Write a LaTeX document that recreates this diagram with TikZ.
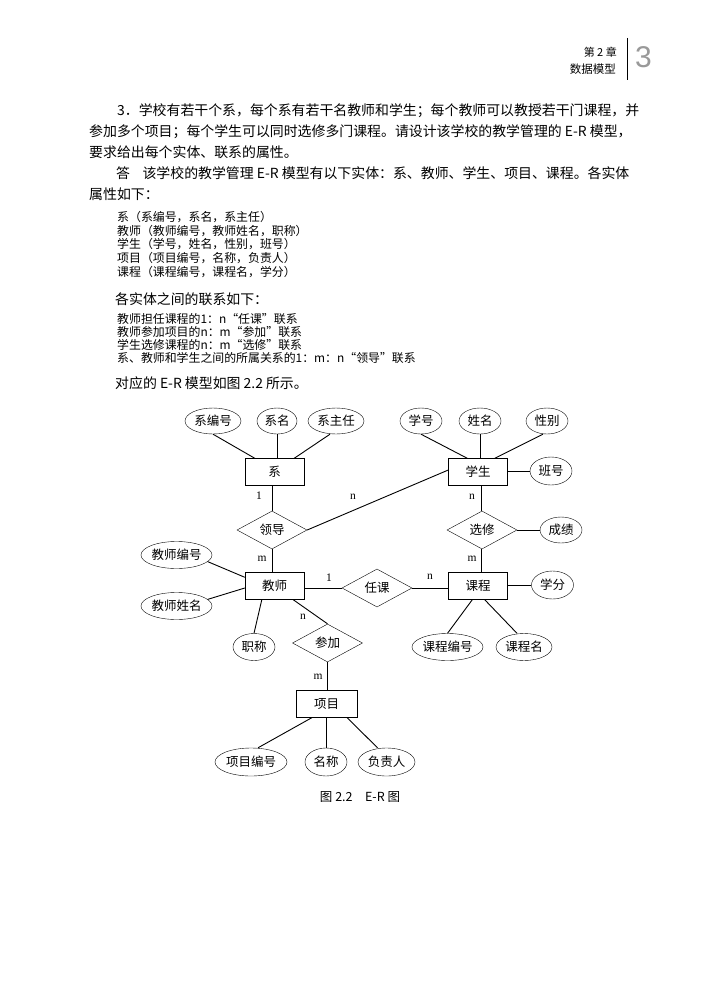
\documentclass[tikz,border=0pt]{standalone}
\usepackage{fontspec}
\setmainfont{Noto Sans CJK SC}
\newfontfamily\latf{Liberation Serif}
\newfontfamily\hdf{Liberation Sans}
\usetikzlibrary{shapes.geometric}
\tikzset{
  ent/.style={draw, rectangle, minimum width=59pt, minimum height=27pt, inner sep=0pt, font=\fontsize{12.5}{14}\selectfont},
  attr/.style={draw, ellipse, minimum height=26pt, inner sep=0pt, font=\fontsize{12.5}{14}\selectfont},
  rel/.style={draw, diamond, minimum width=70pt, minimum height=38pt, inner sep=0pt, font=\fontsize{12.5}{14}\selectfont},
  card/.style={inner sep=0pt, font=\latf\fontsize{11.5}{12}\selectfont},
  body/.style={anchor=west, inner sep=0pt, font=\fontsize{13.9}{16}\selectfont},
  small/.style={anchor=west, inner sep=0pt, font=\fontsize{11.9}{13}\selectfont},
  conn/.style={line width=0.9pt}
}
\begin{document}
\begin{tikzpicture}[x=1pt, y=-1pt]
\fill[white] (0,0) rectangle (722,1006);
\useasboundingbox (0,0) rectangle (722,1006);

% header
\node[anchor=east, inner sep=0pt, font=\fontsize{11}{12}\selectfont] (hd1) at (617,52) {第 2 章};
\node[anchor=east, inner sep=0pt, font=\fontsize{11.5}{12}\selectfont] (hd2) at (616,69) {数据模型};
\coordinate (vt) at (627,38);
\coordinate (vb) at (627,80);
\draw[line width=0.9pt] (vt) -- (vb);
\node[anchor=west, inner sep=0pt, text=gray!80, font=\hdf\fontsize{30}{30}\selectfont] (hd3) at (635,57) {3};

% body text
\node[body] (t1) at (117,111) {3．学校有若干个系，每个系有若干名教师和学生；每个教师可以教授若干门课程，并};
\node[body] (t2) at (89,132) {参加多个项目；每个学生可以同时选修多门课程。请设计该学校的教学管理的 E-R 模型，};
\node[body] (t3) at (89,152.5) {要求给出每个实体、联系的属性。};
\node[body] (t4) at (116,173) {答\hspace{0.9em}该学校的教学管理 E-R 模型有以下实体：系、教师、学生、项目、课程。各实体};
\node[body] (t5) at (89,194) {属性如下：};

\node[small] (l1) at (117,217) {系（系编号，系名，系主任）};
\node[small] (l2) at (117,231) {教师（教师编号，教师姓名，职称）};
\node[small] (l3) at (117,244.5) {学生（学号，姓名，性别，班号）};
\node[small] (l4) at (117,258) {项目（项目编号，名称，负责人）};
\node[small] (l5) at (117,272) {课程（课程编号，课程名，学分）};

\node[body] (t6) at (115,299) {各实体之间的联系如下：};
\node[small] (r1) at (117,319) {教师担任课程的1：n“任课”联系};
\node[small] (r2) at (117,332) {教师参加项目的n：m“参加”联系};
\node[small] (r3) at (117,345) {学生选修课程的n：m“选修”联系};
\node[small] (r4) at (117,358) {系、教师和学生之间的所属关系的1：m：n“领导”联系};
\node[body] (t7) at (115,383) {对应的 E-R 模型如图 2.2 所示。};

% entities
\node[ent] (xi) at (274.5,472) {系};
\node[ent] (xs) at (478,472) {学生};
\node[ent] (js) at (274.5,586) {教师};
\node[ent] (kc) at (478,586) {课程};
\node[ent, minimum width=61pt] (xm) at (326.5,704) {项目};

% relationships
\node[rel] (ld) at (272,530) {领导};
\node[rel] (xx) at (482,530) {选修};
\node[rel] (rk) at (377,588) {任课};
\node[rel] (cj) at (327.5,643) {参加};

% attributes
\node[attr, minimum width=56pt] (xbh) at (213,421) {系编号};
\node[attr, minimum width=40pt] (xmc) at (277,421) {系名};
\node[attr, minimum width=56pt] (xzr) at (336,421) {系主任};
\node[attr, minimum width=42pt] (xh) at (421,421) {学号};
\node[attr, minimum width=42pt] (xmn) at (480,421) {姓名};
\node[attr, minimum width=42pt] (xb) at (547,421) {性别};
\node[attr, minimum width=42pt, minimum height=28pt] (bh) at (551,471) {班号};
\node[attr, minimum width=42pt] (cjj) at (561,530) {成绩};
\node[attr, minimum width=71pt, minimum height=27pt] (jbh) at (176.5,555) {教师编号};
\node[attr, minimum width=71pt, minimum height=27pt] (jxm) at (176.5,606) {教师姓名};
\node[attr, minimum width=42pt, minimum height=27pt] (zc) at (254,647) {职称};
\node[attr, minimum width=42pt, minimum height=28pt] (xf) at (552.5,585) {学分};
\node[attr, minimum width=71pt, minimum height=27pt] (kbh) at (447.5,647) {课程编号};
\node[attr, minimum width=56pt, minimum height=27pt] (kcm) at (524,647) {课程名};
\node[attr, minimum width=72pt, minimum height=28pt] (xmbh) at (251,762) {项目编号};
\node[attr, minimum width=42pt, minimum height=28pt] (mc) at (326,762) {名称};
\node[attr, minimum width=57pt, minimum height=28pt] (fzr) at (386.5,762) {负责人};

% attribute connectors
\draw[conn] (xbh.south) -- ([xshift=10pt]xi.north west);
\draw[conn] (xmc.south) -- (xmc.south |- xi.north);
\draw[conn] ([xshift=-6pt]xzr.south) -- ([xshift=-10pt]xi.north east);
\draw[conn] (xh.south) -- ([xshift=19pt]xs.north west);
\draw[conn] (xmn.south) -- (xmn.south |- xs.north);
\draw[conn] ([xshift=-4pt]xb.south) -- ([xshift=-13pt]xs.north east);
\draw[conn] (bh.west) -- (bh.west -| xs.east);
\draw[conn] (cjj.west) -- (cjj.west -| xx.east);
\draw[conn] (jbh.-12) -- ([yshift=-5pt]js.north west);
\draw[conn] (jxm.12) -- ([yshift=-2pt]js.west);
\draw[conn] (zc.north) -- ([xshift=17pt]js.south west);
\draw[conn] (xf.west) -- (xf.west -| kc.east);
\draw[conn] (kbh.north) -- ([xshift=24pt]kc.south west);
\draw[conn] ([xshift=-7pt]kcm.north) -- ([xshift=-23pt]kc.south east);
\draw[conn] ([xshift=7pt]xmbh.north) -- ([xshift=16pt]xm.south west);
\draw[conn] (mc.north) -- (mc.north |- xm.south);
\draw[conn] ([xshift=-9pt]fzr.north) -- ([xshift=-10pt]xm.south east);

% relationship connectors
\draw[conn] (ld.north) -- (ld.north |- xi.south);
\draw[conn] (ld.east) -- ([yshift=2pt]xs.west);
\draw[conn] (ld.south) -- (ld.south |- js.north);
\draw[conn] ([xshift=-1pt]xx.north) -- ([xshift=-1pt]xx.north |- xs.south);
\draw[conn] ([xshift=-1pt]xx.south) -- ([xshift=-1pt]xx.south |- kc.north);
\draw[conn] (rk.west) -- (rk.west -| js.east);
\draw[conn] (rk.east) -- (rk.east -| kc.west);
\draw[conn] ([xshift=-11pt]js.south east) -- (cj.north);
\draw[conn] (cj.south) -- (cj.south |- xm.north);

% cardinalities
\node[card] (c1) at (259,496) {1};
\node[card] (c2) at (353,497) {n};
\node[card] (c3) at (472,497) {n};
\node[card] (c4) at (262,559) {m};
\node[card] (c5) at (472,559) {m};
\node[card] (c6) at (329,578) {1};
\node[card] (c7) at (430,577) {n};
\node[card] (c8) at (303,617) {n};
\node[card] (c9) at (318,677) {m};

% caption
\node[inner sep=0pt, font=\fontsize{12.5}{14}\selectfont] (cap) at (360,797) {图 2.2\hspace{1em}E-R 图};
\end{tikzpicture}
\end{document}
